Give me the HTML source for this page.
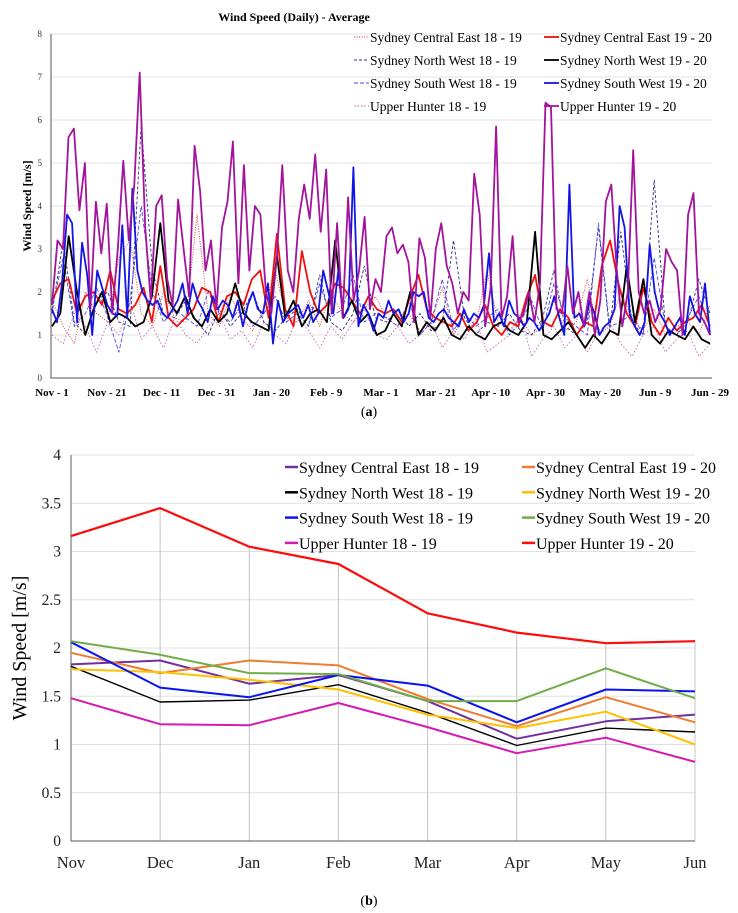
<!DOCTYPE html>
<html><head><meta charset="utf-8">
<style>
html,body{margin:0;padding:0;background:#fff;}
svg{display:block;font-family:"Liberation Serif",serif;}
</style></head>
<body>
<svg id="root" width="738" height="913" viewBox="0 0 738 913">
  <g id="chartA"></g>
  <text x="369" y="416" text-anchor="middle" font-size="14">(<tspan font-weight="bold">a</tspan>)</text>
  <g id="chartB"></g>
  <text x="369" y="905" text-anchor="middle" font-size="14">(<tspan font-weight="bold">b</tspan>)</text>
</svg>
<script>
// ===== Chart (a) data: daily averages =====
const dailyTicks = ["Nov - 1","Nov - 21","Dec - 11","Dec - 31","Jan - 20","Feb - 9","Mar - 1","Mar - 21","Apr - 10","Apr - 30","May - 20","Jun - 9","Jun - 29"];
const dailyYTicks = [0,1,2,3,4,5,6,7,8];
const uh1920Daily = [1.7,3.2,3.0,5.6,5.8,3.9,5.0,1.6,4.1,2.9,4.05,1.5,3.0,5.05,3.2,4.5,7.1,3.5,1.8,4.0,4.25,2.3,1.7,4.15,3.0,1.9,5.4,4.35,2.5,3.2,1.6,3.5,4.1,5.5,2.2,4.95,2.5,4.0,3.8,2.0,1.5,2.8,4.95,2.5,2.0,3.7,4.5,3.7,5.2,3.4,4.85,1.5,3.6,1.4,4.2,1.8,2.5,3.75,1.6,2.3,2.0,3.3,3.5,2.9,3.1,2.7,1.3,3.25,2.8,1.4,3.0,3.6,2.6,2.2,1.5,2.0,1.8,4.75,3.8,1.2,2.1,5.85,1.4,1.9,3.3,1.3,1.5,2.0,1.3,2.2,6.4,6.3,1.6,1.5,2.6,1.5,2.0,1.2,2.0,1.0,1.8,4.1,4.5,2.5,1.2,2.0,5.3,2.0,1.5,1.8,1.3,1.6,3.0,2.7,2.5,1.0,3.8,4.3,1.5,1.3,1.0];
const sw1920Daily = [1.6,1.3,2.2,3.8,3.6,1.3,3.15,2.4,1.0,2.5,2.1,1.7,1.5,1.45,3.55,1.4,4.4,2.5,2.0,1.8,1.7,1.8,1.5,1.4,1.6,1.8,2.2,1.5,2.2,1.8,1.6,1.3,1.9,1.6,1.8,1.7,1.4,1.8,1.2,1.7,2.0,1.6,1.5,2.2,0.8,1.8,1.3,1.5,1.6,1.7,1.4,1.7,1.3,1.5,2.5,2.0,1.5,2.5,1.4,1.6,4.9,1.2,1.7,1.5,1.1,1.5,1.4,1.8,1.5,1.6,1.3,1.5,2.0,1.9,2.0,1.4,1.3,1.5,1.6,1.4,1.3,1.2,1.6,1.3,1.5,1.4,1.7,2.9,1.3,1.5,1.2,1.8,1.5,1.4,1.2,1.4,1.3,1.1,1.3,1.5,1.9,1.4,1.0,4.5,1.4,1.5,1.2,1.8,1.5,1.0,1.2,1.3,1.6,4.0,3.5,1.5,1.2,1.0,1.3,3.1,2.0,1.5,1.3,1.0,1.2,1.4,1.0,1.9,1.5,1.3,2.2,1.0];
const ce1920Daily = [1.8,2.2,2.3,1.5,1.9,2.0,1.7,2.5,1.6,1.5,1.7,2.1,1.3,2.6,1.4,1.2,1.4,1.6,2.1,2.0,1.3,1.9,2.0,1.7,2.3,2.5,1.4,3.35,1.6,1.2,2.95,2.0,1.5,1.7,2.2,2.1,1.8,1.5,1.9,1.6,1.5,1.6,1.3,1.9,2.4,1.6,1.4,1.3,1.2,1.5,1.1,1.3,1.7,1.2,1.0,1.3,1.2,1.9,2.4,1.3,1.2,1.6,1.4,1.0,1.3,1.2,2.6,3.2,2.2,1.5,1.2,2.1,1.3,1.0,1.4,1.1,1.3,1.4,1.7,1.2];
const nw1920Daily = [1.2,1.5,3.3,2.0,1.0,1.6,2.0,1.3,1.5,1.4,1.2,1.3,1.9,3.6,1.8,1.5,1.9,1.4,1.2,1.6,1.3,1.5,2.2,1.5,1.3,1.2,1.1,2.85,1.4,1.8,1.2,1.5,1.6,1.3,3.2,1.4,1.8,1.3,1.5,1.0,1.1,1.5,1.2,2.0,1.0,1.3,1.1,1.4,1.0,0.9,1.2,1.0,0.9,1.2,1.3,1.1,1.0,1.3,3.4,1.0,0.9,1.1,1.3,1.0,0.7,1.0,0.8,1.1,1.0,2.6,1.3,2.3,1.0,0.8,1.1,1.0,0.9,1.2,0.9,0.8];
const ce1819Daily = [1.8,1.2,0.8,2.0,1.5,1.3,2.8,3.2,1.5,1.2,2.0,1.4,1.3,3.8,1.5,1.2,1.9,1.4,1.1,1.6,2.5,1.4,1.3,1.8,1.2,2.0,1.5,1.3,1.6,1.9,1.4,1.2,1.5,1.1,1.3,2.1,1.0,1.5,1.2,2.5,1.3,1.1,1.4,1.0,1.2,1.8,1.1,1.3,2.3,1.0,1.2,2.0,1.4,1.1,1.6,1.0,1.2,1.3,1.0,1.7];
const nw1819Daily = [1.5,3.2,1.3,1.0,1.8,2.0,1.3,1.2,5.9,2.5,1.5,1.4,1.8,1.3,1.0,1.6,1.2,1.5,2.0,1.3,1.1,1.4,1.6,1.2,2.4,1.3,1.1,1.5,2.6,1.4,1.3,1.6,1.2,1.5,1.1,1.3,3.2,1.4,1.0,1.3,1.2,1.5,1.1,1.0,1.4,2.5,1.2,1.0,1.3,3.5,1.1,3.4,1.3,1.0,4.6,1.2,1.0,1.3,2.3,1.5];
const sw1819Daily = [1.6,2.8,1.2,1.5,2.1,1.4,0.6,1.8,4.0,2.0,1.3,1.6,1.4,1.2,2.0,1.5,1.3,1.7,1.2,1.5,1.9,1.3,1.5,1.2,2.2,1.4,1.6,2.4,1.3,1.5,1.4,1.2,1.8,1.0,1.3,2.3,1.1,1.5,1.2,1.4,1.6,1.0,1.3,1.8,1.1,2.2,1.4,1.2,1.0,3.6,1.2,1.3,1.5,1.0,2.8,1.2,1.0,1.4,1.9,1.2];
const uh1819Daily = [1.0,0.8,1.5,1.2,0.6,1.3,1.0,1.8,0.9,1.2,0.7,1.4,1.0,0.8,1.2,1.5,0.9,1.1,0.7,1.3,1.0,0.8,1.4,1.1,0.7,1.2,0.9,1.3,1.6,1.0,0.9,1.2,0.8,1.0,1.3,0.7,1.1,0.9,1.4,0.6,0.8,1.0,1.5,0.5,0.9,1.2,0.7,1.0,0.6,1.1,1.3,0.8,0.5,1.0,1.2,0.6,0.9,1.1,0.5,0.8];

// ===== Chart (b) data: monthly averages =====
const months = ["Nov","Dec","Jan","Feb","Mar","Apr","May","Jun"];
const monthlyYTicks = [0,0.5,1,1.5,2,2.5,3,3.5,4];
const ce1819 = [1.83,1.87,1.63,1.72,1.45,1.06,1.24,1.31];
const ce1920 = [1.95,1.74,1.87,1.82,1.47,1.19,1.49,1.23];
const nw1819 = [1.81,1.44,1.46,1.62,1.33,0.99,1.17,1.13];
const nw1920 = [1.78,1.75,1.67,1.57,1.31,1.17,1.34,1.00];
const sw1819 = [2.06,1.59,1.49,1.72,1.61,1.23,1.57,1.55];
const sw1920 = [2.07,1.93,1.74,1.73,1.45,1.45,1.79,1.48];
const uh1819 = [1.48,1.21,1.20,1.43,1.18,0.91,1.07,0.82];
const uh1920 = [3.16,3.45,3.05,2.87,2.36,2.16,2.05,2.07];

const NS = "http://www.w3.org/2000/svg";
function mk(parent, tag, attrs, text) {
  const e = document.createElementNS(NS, tag);
  for (const k in attrs) e.setAttribute(k, attrs[k]);
  if (text !== undefined) e.textContent = text;
  parent.appendChild(e);
  return e;
}

// ---------- Chart A ----------
(function(){
  const g = document.getElementById('chartA');
  const x0 = 51, x1 = 712, y0 = 378, yTop = 34;
  const dayStart = 52, dayPx = (710 - 52) / 240;
  const xs = d => dayStart + d * dayPx;
  const ys = v => y0 - v * (y0 - yTop) / 8;

  dailyYTicks.forEach(t => {
    if (t > 0) {
      const gl = mk(g, 'line', {x1: x0, x2: x1, y1: ys(t), y2: ys(t), stroke: '#e3e3e3', 'stroke-width': 1});
      
      
    }
    const tl = mk(g, 'text', {x: 42, y: ys(t) + 3, 'text-anchor': 'end', 'font-size': 9, fill: '#333'}, String(t));
    
    
  });
  dailyTicks.forEach((t, i) => {
    const tl = mk(g, 'text', {x: xs(i * 20), y: 396, 'text-anchor': 'middle', 'font-size': 11, 'font-weight': 'bold'}, t);
    
    
  });
  const ax = mk(g, 'path', {d: `M${x0},${yTop} V${y0} H${x1}`, fill: 'none', stroke: '#555', 'stroke-width': 1});
  
  

  const title = mk(g, 'text', {x: 294, y: 21, 'text-anchor': 'middle', 'font-size': 12, 'font-weight': 'bold'}, 'Wind Speed (Daily) - Average');
  
  
  const yt = mk(g, 'text', {x: 0, y: 0, 'text-anchor': 'middle', 'font-size': 12, 'font-weight': 'bold', transform: 'translate(31,206) rotate(-90)'}, 'Wind Speed [m/s]');
  
  

  const series = [
    {name: 'uh-1819', arr: uh1819Daily, color: '#c060b0', w: 0.9, dash: '1.5,2', label: 'Upper Hunter 18 - 19', col: 0, row: 3},
    {name: 'ce-1819', arr: ce1819Daily, color: '#e03030', w: 0.9, dash: '1,1.5', label: 'Sydney Central East 18 - 19', col: 0, row: 0},
    {name: 'nw-1819', arr: nw1819Daily, color: '#303080', w: 0.9, dash: '3,2', label: 'Sydney North West 18 - 19', col: 0, row: 1},
    {name: 'sw-1819', arr: sw1819Daily, color: '#4a4af0', w: 0.9, dash: '4,2', label: 'Sydney South West 18 - 19', col: 0, row: 2},
    {name: 'ce-1920', arr: ce1920Daily, color: '#f01010', w: 1.8, dash: null, label: 'Sydney Central East 19 - 20', col: 1, row: 0},
    {name: 'nw-1920', arr: nw1920Daily, color: '#000000', w: 1.8, dash: null, label: 'Sydney North West 19 - 20', col: 1, row: 1},
    {name: 'sw-1920', arr: sw1920Daily, color: '#1414e6', w: 1.8, dash: null, label: 'Sydney South West 19 - 20', col: 1, row: 2},
    {name: 'uh-1920', arr: uh1920Daily, color: '#a2149c', w: 1.8, dash: null, label: 'Upper Hunter 19 - 20', col: 1, row: 3}
  ];
  series.forEach(s => {
    const n = s.arr.length;
    const pts = s.arr.map((v, i) => xs(i * 240 / (n - 1)).toFixed(1) + ',' + ys(v).toFixed(1)).join(' ');
    const attrs = {points: pts, fill: 'none', stroke: s.color, 'stroke-width': s.w, 'stroke-linejoin': 'round'};
    if (s.dash) attrs['stroke-dasharray'] = s.dash;
    const pl = mk(g, 'polyline', attrs);
    
    
  });
  series.forEach(s => {
    const lx = s.col === 0 ? 354 : 544;
    const ly = 37 + s.row * 23;
    const la = {x1: lx, x2: lx + 15, y1: ly, y2: ly, stroke: s.color, 'stroke-width': s.w};
    if (s.dash) la['stroke-dasharray'] = s.dash;
    const m = mk(g, 'line', la);
    
    
    const t = mk(g, 'text', {x: lx + 16, y: ly + 5, 'font-size': 13.5}, s.label);
    
    
  });
})();

// ---------- Chart B ----------
(function(){
  const g = document.getElementById('chartB');
  const x0 = 71, x1 = 695, y0 = 841, yTop = 455;
  const xs = i => x0 + i * (x1 - x0) / (months.length - 1);
  const ys = v => y0 - v * (y0 - yTop) / 4;

  monthlyYTicks.forEach(t => {
    if (t > 0) {
      const gl = mk(g, 'line', {x1: x0, x2: x1, y1: ys(t), y2: ys(t), stroke: '#e0e0e0', 'stroke-width': 1});
      
      
    }
    const tl = mk(g, 'text', {x: 61, y: ys(t) + 5, 'text-anchor': 'end', 'font-size': 15.5, fill: '#222'}, String(t));
    
    
  });
  months.forEach((m, i) => {
    if (i > 0) {
      const dl = mk(g, 'line', {x1: xs(i), x2: xs(i), y1: ys(uh1920[i]), y2: y0, stroke: '#c4c4c4', 'stroke-width': 1});
      
      
    }
    const tl = mk(g, 'text', {x: xs(i), y: 868, 'text-anchor': 'middle', 'font-size': 16.5, fill: '#222'}, m);
    
    
  });
  const ax = mk(g, 'path', {d: `M${x0},${yTop} V${y0} H${x1}`, fill: 'none', stroke: '#777', 'stroke-width': 1.2});
  
  
  const yt = mk(g, 'text', {x: 0, y: 0, 'text-anchor': 'middle', 'font-size': 20, transform: 'translate(26,648) rotate(-90)'}, 'Wind Speed [m/s]');
  
  

  const series = [
    {name: 'ce-1819', arr: ce1819, color: '#7030a0', w: 2, label: 'Sydney Central East 18 - 19', col: 0, row: 0},
    {name: 'ce-1920', arr: ce1920, color: '#ed7d31', w: 2, label: 'Sydney Central East 19 - 20', col: 1, row: 0},
    {name: 'nw-1819', arr: nw1819, color: '#000000', w: 1.4, label: 'Sydney North West 18 - 19', col: 0, row: 1},
    {name: 'nw-1920', arr: nw1920, color: '#ffc000', w: 2, label: 'Sydney North West 19 - 20', col: 1, row: 1},
    {name: 'sw-1819', arr: sw1819, color: '#0a14f0', w: 2, label: 'Sydney South West 18 - 19', col: 0, row: 2},
    {name: 'sw-1920', arr: sw1920, color: '#70ad47', w: 2, label: 'Sydney South West 19 - 20', col: 1, row: 2},
    {name: 'uh-1819', arr: uh1819, color: '#d41ab0', w: 2, label: 'Upper Hunter 18 - 19', col: 0, row: 3},
    {name: 'uh-1920', arr: uh1920, color: '#ff0a0a', w: 2.2, label: 'Upper Hunter 19 - 20', col: 1, row: 3}
  ];
  series.forEach(s => {
    const pts = s.arr.map((v, i) => xs(i).toFixed(1) + ',' + ys(v).toFixed(1)).join(' ');
    const pl = mk(g, 'polyline', {points: pts, fill: 'none', stroke: s.color, 'stroke-width': s.w, 'stroke-linejoin': 'round'});
    
    
  });
  series.forEach(s => {
    const lx = s.col === 0 ? 285 : 522;
    const ly = 467 + s.row * 25.3;
    const m = mk(g, 'line', {x1: lx, x2: lx + 13, y1: ly, y2: ly, stroke: s.color, 'stroke-width': 2.5});
    
    
    const t = mk(g, 'text', {x: lx + 14, y: ly + 6, 'font-size': 16}, s.label);
    
    
  });
})();
</script>
</body></html>
